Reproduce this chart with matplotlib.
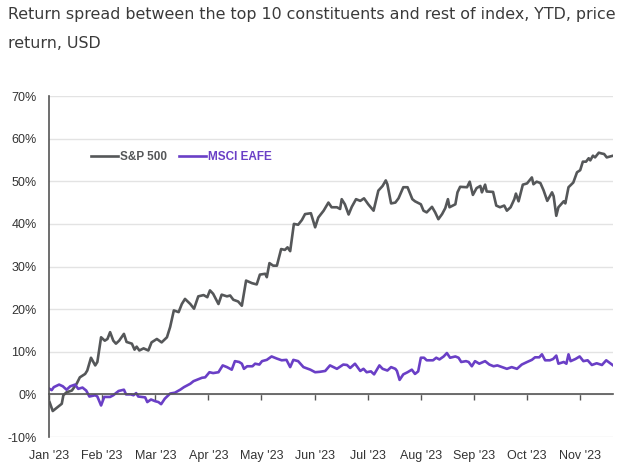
import matplotlib
matplotlib.use("Agg")
import matplotlib.pyplot as plt

# DATA (months elapsed since 1 Jan 2023, return spread in %)
months = ["Jan '23", "Feb '23", "Mar '23", "Apr '23", "May '23", "Jun '23",
          "Jul '23", "Aug '23", "Sep '23", "Oct '23", "Nov '23"]

sp_t = [0.01, 0.07, 0.24, 0.27, 0.33, 0.43, 0.52, 0.58, 0.68, 0.72, 0.79, 0.87,
        0.91, 0.98, 1.05, 1.10, 1.15, 1.21, 1.26, 1.32, 1.41, 1.46, 1.56, 1.61,
        1.65, 1.70, 1.78, 1.87, 1.93, 2.03, 2.12, 2.22, 2.28, 2.35, 2.44, 2.50,
        2.56, 2.66, 2.73, 2.81, 2.91, 2.98, 3.03, 3.09, 3.19, 3.25, 3.35, 3.41,
        3.47, 3.56, 3.63, 3.71, 3.82, 3.91, 3.97, 4.07, 4.10, 4.15, 4.22, 4.29,
        4.37, 4.44, 4.49, 4.54, 4.61, 4.69, 4.76, 4.82, 4.93, 5.01, 5.07, 5.17,
        5.26, 5.32, 5.42, 5.48, 5.51, 5.57, 5.64, 5.70, 5.78, 5.86, 5.93, 6.01,
        6.11, 6.20, 6.28, 6.34, 6.37, 6.44, 6.52, 6.58, 6.67, 6.75, 6.84, 6.89,
        7.00, 7.05, 7.11, 7.21, 7.27, 7.33, 7.40, 7.46, 7.51, 7.54, 7.65, 7.69,
        7.74, 7.87, 7.92, 7.98, 8.05, 8.12, 8.15, 8.21, 8.24, 8.36, 8.42, 8.49,
        8.57, 8.62, 8.69, 8.76, 8.79, 8.84, 8.92, 9.00, 9.09, 9.12, 9.18, 9.25,
        9.31, 9.38, 9.47, 9.50, 9.55, 9.59, 9.69, 9.72, 9.78, 9.87, 9.94, 10.00,
        10.05, 10.11, 10.16, 10.19, 10.24, 10.28, 10.35, 10.41, 10.45, 10.50, 10.62]
sp_val = [-1.8, -3.9, -2.2, -0.2, 0.5, 0.9, 2.5, 4.0, 4.8, 5.6, 8.6, 6.8,
          7.6, 13.4, 12.6, 13.0, 14.6, 12.6, 11.9, 12.6, 14.2, 12.3, 11.9, 10.5,
          11.2, 10.3, 10.8, 10.3, 12.2, 13.0, 12.2, 13.4, 15.8, 19.7, 19.3, 21.2,
          22.4, 21.2, 20.1, 23.0, 23.3, 22.8, 24.4, 23.6, 21.2, 23.4, 23.0, 23.2,
          22.2, 21.8, 20.8, 26.7, 26.1, 25.8, 28.1, 28.3, 27.5, 30.8, 30.2, 30.2,
          34.1, 33.9, 34.5, 33.6, 40.0, 39.8, 40.9, 42.3, 42.5, 39.2, 41.5, 43.1,
          45.0, 43.9, 43.9, 43.5, 45.8, 44.6, 42.2, 44.0, 45.8, 45.4, 46.0, 44.6,
          43.1, 47.8, 48.9, 50.2, 49.3, 44.8, 45.0, 46.0, 48.6, 48.6, 45.8, 45.3,
          44.6, 43.1, 42.7, 44.0, 42.7, 41.1, 42.3, 43.7, 45.8, 43.9, 44.6, 47.4,
          48.7, 48.6, 49.9, 46.8, 48.4, 48.9, 47.4, 49.2, 47.6, 47.5, 44.3, 43.9,
          44.3, 43.1, 43.9, 45.8, 47.1, 45.3, 49.2, 49.5, 50.9, 49.3, 49.9, 49.6,
          47.9, 45.4, 47.4, 46.5, 41.9, 43.9, 45.3, 44.8, 48.6, 49.7, 52.1, 52.6,
          54.6, 54.6, 55.4, 54.9, 56.0, 55.6, 56.7, 56.5, 56.4, 55.6, 56.0]

eafe_t = [0.01, 0.05, 0.09, 0.19, 0.26, 0.33, 0.40, 0.49, 0.55, 0.63, 0.70, 0.76,
          0.87, 0.91, 0.98, 1.04, 1.15, 1.21, 1.31, 1.41, 1.45, 1.54, 1.59, 1.64,
          1.68, 1.81, 1.85, 1.92, 2.00, 2.06, 2.11, 2.18, 2.28, 2.37, 2.47, 2.54,
          2.66, 2.72, 2.78, 2.88, 2.94, 3.02, 3.09, 3.19, 3.27, 3.35, 3.44, 3.50,
          3.58, 3.63, 3.67, 3.73, 3.83, 3.88, 3.96, 4.01, 4.10, 4.19, 4.29, 4.38,
          4.47, 4.54, 4.60, 4.69, 4.79, 4.92, 5.01, 5.10, 5.20, 5.29, 5.42, 5.54,
          5.61, 5.67, 5.76, 5.86, 5.92, 5.98, 6.06, 6.12, 6.22, 6.28, 6.37, 6.44,
          6.52, 6.55, 6.60, 6.67, 6.75, 6.83, 6.89, 6.95, 7.00, 7.06, 7.11, 7.23,
          7.29, 7.35, 7.43, 7.49, 7.55, 7.65, 7.71, 7.76, 7.85, 7.90, 7.96, 8.02,
          8.10, 8.21, 8.29, 8.37, 8.44, 8.53, 8.62, 8.71, 8.81, 8.90, 9.00, 9.09,
          9.15, 9.23, 9.28, 9.34, 9.43, 9.49, 9.55, 9.59, 9.69, 9.74, 9.78, 9.82,
          9.91, 9.99, 10.06, 10.14, 10.22, 10.31, 10.41, 10.49, 10.62]
eafe_val = [1.3, 1.0, 1.7, 2.3, 1.9, 1.1, 1.9, 2.3, 1.3, 1.6, 0.9, -0.5,
            -0.2, -0.5, -2.6, -0.6, -0.6, -0.2, 0.8, 1.1, 0.0, 0.0, -0.2, 0.3,
            -0.5, -0.7, -1.8, -1.2, -1.6, -1.8, -2.3, -1.0, 0.2, 0.4, 1.1, 1.7,
            2.5, 3.1, 3.4, 3.9, 4.0, 5.2, 5.0, 5.2, 6.8, 6.4, 5.8, 7.8,
            7.6, 7.2, 6.0, 6.6, 6.6, 7.2, 7.0, 7.8, 8.1, 8.9, 8.4, 8.0,
            8.1, 6.4, 8.1, 7.8, 6.4, 5.8, 5.2, 5.3, 5.5, 6.8, 6.0, 7.0,
            6.9, 6.2, 7.2, 5.5, 6.0, 5.2, 5.4, 4.7, 6.8, 6.0, 5.6, 6.4,
            6.0, 5.5, 3.4, 4.7, 5.2, 5.8, 4.8, 5.4, 8.6, 8.6, 8.0, 8.0,
            8.6, 8.2, 8.9, 9.7, 8.6, 8.9, 8.6, 7.6, 7.8, 7.6, 6.6, 7.8,
            7.2, 7.8, 7.0, 6.6, 6.8, 6.4, 6.0, 6.4, 6.0, 7.0, 7.6, 8.1,
            8.7, 8.7, 9.4, 8.0, 8.0, 8.3, 9.1, 7.2, 7.6, 7.2, 9.4, 7.8,
            8.3, 8.9, 7.8, 8.0, 6.9, 7.3, 6.9, 8.0, 6.8]

SP_COLOR = "#555759"
EAFE_COLOR = "#6a3fc6"
TEXT = "#333333"

plt.rcParams["font.family"] = ["Liberation Sans", "DejaVu Sans"]

fig = plt.figure(figsize=(6.4, 4.67), dpi=100)
ax = fig.add_axes([0.0766, 0.0642, 0.8814, 0.7302])

ax.plot(sp_t, sp_val, color=SP_COLOR, lw=1.9, label="S&P 500", solid_joinstyle="round")
ax.plot(eafe_t, eafe_val, color=EAFE_COLOR, lw=1.9, label="MSCI EAFE", solid_joinstyle="round")

ax.set_ylim(-10, 70)
ax.set_xlim(0, 10.62)
ax.set_yticks(range(-10, 71, 10))
ax.set_yticklabels([f"{v}%" for v in range(-10, 71, 10)])
ax.set_xticks(range(len(months)))
ax.set_xticklabels(months)

ax.grid(axis="y", color="#e3e3e3", lw=1)
ax.set_axisbelow(True)
for s in ["top", "right"]:
    ax.spines[s].set_visible(False)
ax.spines["left"].set_color("#555555")
ax.spines["left"].set_linewidth(1.2)
ax.spines["bottom"].set_position(("data", 0))
ax.spines["bottom"].set_color("#555555")
ax.spines["bottom"].set_linewidth(1.2)

ax.tick_params(axis="y", length=0, pad=9, labelsize=9, labelcolor=TEXT)
ax.tick_params(axis="x", length=4, width=1, color="#555555", direction="out",
               pad=36, labelsize=9, labelcolor=TEXT)

leg = ax.legend(loc="center left", bbox_to_anchor=(0.075, 0.821), ncol=2, frameon=False,
                handlelength=2.3, handletextpad=0.15, columnspacing=1.0,
                borderpad=0, borderaxespad=0, labelcolor="linecolor",
                prop={"weight": "bold", "size": 8.5})

fig.text(0.0125, 0.970, "Return spread between the top 10 constituents and rest of index, YTD, price",
         fontsize=11.4, color="#3a3a3a", family="DejaVu Sans", va="center", ha="left")
fig.text(0.0125, 0.906, "return, USD",
         fontsize=11.4, color="#3a3a3a", family="DejaVu Sans", va="center", ha="left")

fig.savefig("out.png", dpi=100)
